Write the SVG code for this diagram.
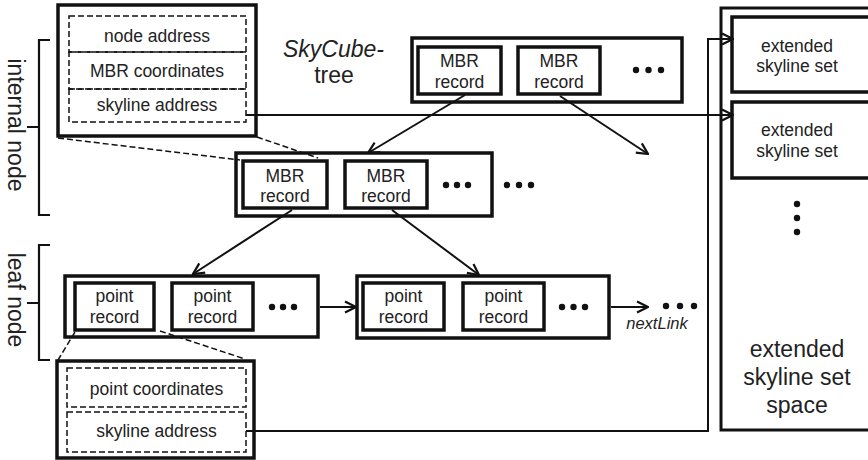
<svg xmlns="http://www.w3.org/2000/svg" width="868" height="460" viewBox="0 0 868 460">
<defs>
<marker id="arr" markerUnits="userSpaceOnUse" viewBox="0 0 14 14" refX="13" refY="7" markerWidth="14" markerHeight="14" orient="auto">
<path d="M2,1.5 L13,7 L2,12.5" fill="none" stroke="#111" stroke-width="2.2"/>
</marker>
</defs>
<style>
text{font-family:"Liberation Sans",Arial,sans-serif;fill:#222;text-anchor:middle}
.t17{font-size:17.5px}
.t23{font-size:23px}
.outer{fill:#fff;stroke:#111;stroke-width:3.5}
.rec{fill:#fff;stroke:#111;stroke-width:3.5}
.dash{fill:none;stroke:#111;stroke-width:1.5;stroke-dasharray:6 3}
.con{fill:none;stroke:#111;stroke-width:2}
.brace{fill:none;stroke:#111;stroke-width:2.2}
.dot{fill:#111}
</style>

<g id="internal-node-detail">
<rect class="outer" x="58" y="5" width="198" height="131"/>
<rect class="dash" x="69" y="16" width="177" height="36"/>
<rect class="dash" x="69" y="52" width="177" height="37"/>
<rect class="dash" x="69" y="89" width="177" height="33"/>
<text class="t17" x="157" y="42">node address</text>
<text class="t17" x="157" y="77">MBR coordinates</text>
<text class="t17" x="157" y="111">skyline address</text>
</g>

<g id="internal-brace">
<path class="brace" d="M50,40 H39 V215 H50 M39,127 H27"/>
<text class="t23" transform="translate(8,125) rotate(90)">internal node</text>
</g>

<g id="leaf-brace">
<path class="brace" d="M50,245 H39 V360 H50 M39,303 H27"/>
<text class="t23" transform="translate(8,300) rotate(90)">leaf node</text>
</g>

<g id="title">
<text class="t23" x="283" y="57" style="text-anchor:start;font-style:italic">SkyCube-</text>
<text class="t23" x="334" y="83">tree</text>
</g>

<g id="root-node">
<rect class="outer" x="412" y="38" width="270" height="64"/>
<rect class="rec" x="418" y="47" width="83" height="47"/>
<rect class="rec" x="518" y="47" width="82" height="47"/>
<text class="t17" x="459.5" y="67">MBR</text>
<text class="t17" x="459.5" y="88">record</text>
<text class="t17" x="559" y="67">MBR</text>
<text class="t17" x="559" y="88">record</text>
<circle class="dot" cx="636" cy="70" r="3.2"/><circle class="dot" cx="648.5" cy="70" r="3.2"/><circle class="dot" cx="661" cy="70" r="3.2"/>
</g>

<g id="middle-node">
<rect class="outer" x="236" y="153" width="256" height="63"/>
<rect class="rec" x="243" y="161" width="84" height="47"/>
<rect class="rec" x="345" y="161" width="82" height="47"/>
<text class="t17" x="285" y="182">MBR</text>
<text class="t17" x="285" y="202">record</text>
<text class="t17" x="386" y="182">MBR</text>
<text class="t17" x="386" y="202">record</text>
<circle class="dot" cx="446" cy="185" r="3.2"/><circle class="dot" cx="457" cy="185" r="3.2"/><circle class="dot" cx="468" cy="185" r="3.2"/>
<circle class="dot" cx="507" cy="185" r="3.2"/><circle class="dot" cx="519" cy="185" r="3.2"/><circle class="dot" cx="531" cy="185" r="3.2"/>
</g>

<g id="leaf-node-1">
<rect class="outer" x="65" y="276" width="253" height="61"/>
<rect class="rec" x="75" y="283" width="79" height="47"/>
<rect class="rec" x="172" y="283" width="81" height="47"/>
<text class="t17" x="114.5" y="302">point</text>
<text class="t17" x="114.5" y="323">record</text>
<text class="t17" x="212.5" y="302">point</text>
<text class="t17" x="212.5" y="323">record</text>
<circle class="dot" cx="272" cy="307" r="3.2"/><circle class="dot" cx="283" cy="307" r="3.2"/><circle class="dot" cx="294" cy="307" r="3.2"/>
</g>

<g id="leaf-node-2">
<rect class="outer" x="357" y="276" width="252" height="62"/>
<rect class="rec" x="363" y="283" width="81" height="47"/>
<rect class="rec" x="463" y="283" width="81" height="47"/>
<text class="t17" x="403.5" y="302">point</text>
<text class="t17" x="403.5" y="323">record</text>
<text class="t17" x="503.5" y="302">point</text>
<text class="t17" x="503.5" y="323">record</text>
<circle class="dot" cx="562" cy="307" r="3.2"/><circle class="dot" cx="573.5" cy="307" r="3.2"/><circle class="dot" cx="585" cy="307" r="3.2"/>
</g>

<g id="next-link">
<circle class="dot" cx="666" cy="306" r="3.2"/><circle class="dot" cx="680" cy="306" r="3.2"/><circle class="dot" cx="694" cy="306" r="3.2"/>
<text class="t17" x="657" y="329" style="font-style:italic;font-size:16.5px">nextLink</text>
</g>

<g id="leaf-record-detail">
<rect class="outer" x="57" y="361" width="197" height="97"/>
<rect class="dash" x="67" y="368" width="179" height="39"/>
<rect class="dash" x="67" y="412" width="179" height="40"/>
<text class="t17" x="156.5" y="395">point coordinates</text>
<text class="t17" x="156.5" y="437">skyline address</text>
</g>

<g id="skyline-space">
<rect class="outer" x="721" y="8" width="170" height="422" style="stroke-width:3"/>
<rect class="rec" x="732" y="17" width="160" height="75"/>
<rect class="rec" x="732" y="102" width="160" height="76"/>
<text class="t17" x="797" y="52">extended</text>
<text class="t17" x="797" y="72">skyline set</text>
<text class="t17" x="797" y="136">extended</text>
<text class="t17" x="797" y="157">skyline set</text>
<circle class="dot" cx="797" cy="204" r="3.2"/><circle class="dot" cx="797" cy="218" r="3.2"/><circle class="dot" cx="797" cy="232" r="3.2"/>
<text class="t23" x="797" y="357">extended</text>
<text class="t23" x="797" y="385">skyline set</text>
<text class="t23" x="797" y="413">space</text>
</g>

<g id="connectors">
<line class="con" x1="465" y1="95" x2="368" y2="153" marker-end="url(#arr)"/>
<line class="con" x1="560" y1="96" x2="648" y2="154" marker-end="url(#arr)"/>
<line class="con" x1="292" y1="210" x2="193" y2="274" marker-end="url(#arr)"/>
<line class="con" x1="392" y1="210" x2="479" y2="275" marker-end="url(#arr)"/>
<line class="con" x1="320" y1="307" x2="356" y2="307" marker-end="url(#arr)"/>
<line class="con" x1="611" y1="307" x2="648" y2="307" marker-end="url(#arr)"/>
<polyline class="con" points="246,115 733,115" marker-end="url(#arr)"/>
<polyline class="con" points="246,431 708,431 708,39 733,39" marker-end="url(#arr)"/>
<line class="dash" x1="58" y1="138" x2="240" y2="160"/>
<line class="dash" x1="257" y1="137" x2="318" y2="158"/>
<line class="dash" x1="75" y1="332" x2="58" y2="360"/>
<line class="dash" x1="160" y1="331" x2="245" y2="359"/>
</g>
</svg>
